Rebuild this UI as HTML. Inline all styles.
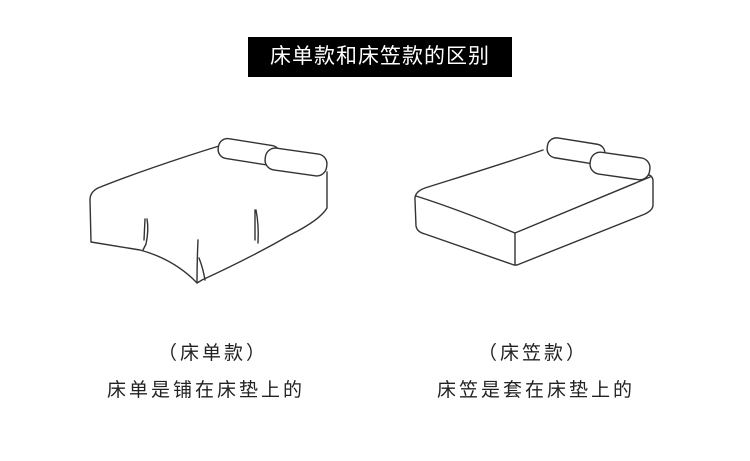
<!DOCTYPE html>
<html><head><meta charset="utf-8"><style>
body{margin:0;width:750px;height:461px;background:#fff;position:relative;overflow:hidden;font-family:"Liberation Sans","Noto Sans CJK SC",sans-serif}
.t{position:absolute;left:248px;top:37px;width:264px;height:40px;background:#000;color:#fff;font-size:21px;line-height:40px;text-align:center;letter-spacing:1px}
.l{position:absolute;font-size:19px;color:#222;text-align:center;letter-spacing:3px}
</style></head><body>
<div class="t">床单款和床笠款的区别</div>
<svg width="750" height="461" style="position:absolute;left:0;top:0" fill="none" stroke="#333" stroke-width="1.4" stroke-linecap="round" stroke-linejoin="round">
<path d="M219,146 C180,158 130,175 98,188 Q90,192 90,200 L91,242 L140,250 Q170,258 192,278 L197,283 L202,280 Q250,258 290,235 Q320,220 327,208 L327,172"/>
<rect x="-31" y="-10" width="62" height="20" rx="9" transform="translate(249,152) rotate(9)" fill="#fff"/>
<rect x="-31" y="-11" width="62" height="22" rx="10" transform="translate(296,162) rotate(8)" fill="#fff"/>
<path d="M147,219 Q149,230 146,244 L143,250 M145,219 L144,240"/>
<path d="M256,210 Q259,225 258,243 M255,210 L255,240"/>
<path d="M198,240 Q197,262 197,283 M199,258 Q203,268 205,280"/>
<path d="M543,150 C500,165 450,180 425,188 Q414,192 415,200 L416,226 Q417,232 425,234 L514,265 L517,265 L645,214 Q653,210 653,205 L653,180 Q652,175 648,175"/>
<path d="M416,196 Q460,210 515,233 L650,177"/>
<path d="M515,233 L515,265"/>
<rect x="-29" y="-10" width="58" height="20" rx="9" transform="translate(576,151) rotate(9)" fill="#fff"/>
<rect x="-30" y="-11" width="60" height="22" rx="10" transform="translate(620,166) rotate(8)" fill="#fff"/>
</svg>
<div class="l" style="left:113px;top:338px;width:200px">（床单款）</div>
<div class="l" style="left:103px;top:375px;width:206px">床单是铺在床垫上的</div>
<div class="l" style="left:433px;top:338px;width:200px">（床笠款）</div>
<div class="l" style="left:433px;top:375px;width:206px">床笠是套在床垫上的</div>
</body></html>
